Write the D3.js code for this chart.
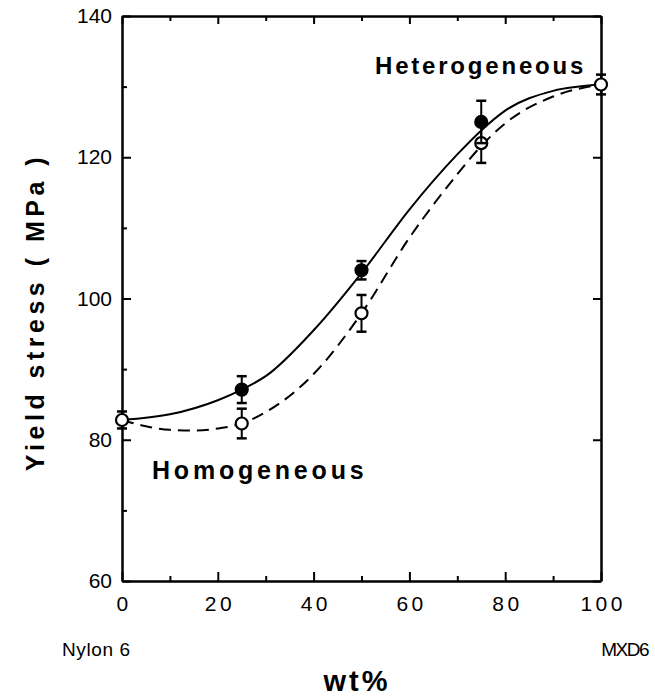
<!DOCTYPE html>
<html><head><meta charset="utf-8">
<script src="https://cdn.jsdelivr.net/npm/d3@7"></script>
<style>body{margin:0;background:#fff}svg{display:block}</style>
</head><body>
<svg id="c" width="655" height="698"></svg>
<script>
// ---- data ----
const compositions = [0, 25, 50, 75, 100];           // wt% MXD6
const heteroX = [25, 50, 75];
const heteroY = [87.1, 104.0, 125.0];
const heteroErr = [1.9, 1.3, 3.0];
const homoX = [0, 25, 50, 75, 100];
const homoY = [82.8, 82.3, 97.9, 122.0, 130.3];
const homoErr = [1.2, 2.1, 2.6, 2.8, 1.4];
// fitted curves
const solidCurveX = [0, 10, 20, 25, 30, 40, 50, 60, 70, 75, 80, 90, 100];
const solidCurveY = [82.8, 83.6, 85.6, 87.1, 89.0, 95.5, 103.6, 112.6, 120.4, 123.8, 126.6, 129.4, 130.3];
const dashCurveX = [0, 5, 10, 15, 20, 25, 30, 40, 50, 60, 70, 75, 80, 90, 100];
const dashCurveY = [82.8, 81.9, 81.4, 81.3, 81.6, 82.3, 83.9, 89.3, 97.9, 108.6, 117.6, 121.6, 124.8, 128.6, 130.3];
const xTicks = [0, 20, 40, 60, 80, 100];
const xMinor = [10, 30, 50, 70, 90];
const yTicks = [60, 80, 100, 120, 140];
const yMinor = [70, 90, 110, 130];

const svg = d3.select("#c");
const L = 122, R = 601, T = 16, B = 581;
const x = d3.scaleLinear().domain([0, 100]).range([L, R]);
const y = d3.scaleLinear().domain([60, 140]).range([B, T]);

const font = "'Liberation Sans', Arial, sans-serif";

// axes (ticks inward)
function styleAxis(g) {
  g.selectAll("path").attr("stroke", "#000").attr("stroke-width", 2.5);
  g.selectAll("line").attr("stroke", "#000").attr("stroke-width", 2);
  g.selectAll("text").attr("font-family", font).attr("font-size", 21).attr("fill", "#000");
}
svg.append("g").attr("transform", `translate(0,${B})`)
  .call(d3.axisBottom(x).tickValues(xTicks).tickSizeInner(-9).tickSizeOuter(0).tickPadding(15).tickFormat(d3.format("d")))
  .call(styleAxis)
  .call(g => g.selectAll("text").attr("letter-spacing", 3.5).attr("dx", 1.7));
svg.append("g").attr("transform", `translate(0,${B})`)
  .call(d3.axisBottom(x).tickValues(xMinor).tickSizeInner(-5).tickSizeOuter(0).tickFormat(""))
  .call(styleAxis).call(g => g.select("path").remove());
svg.append("g").attr("transform", `translate(0,${T})`)
  .call(d3.axisTop(x).tickValues(xTicks).tickSizeInner(-8).tickSizeOuter(0).tickFormat(""))
  .call(styleAxis);
svg.append("g").attr("transform", `translate(0,${T})`)
  .call(d3.axisTop(x).tickValues(xMinor).tickSizeInner(-5).tickSizeOuter(0).tickFormat(""))
  .call(styleAxis).call(g => g.select("path").remove());
svg.append("g").attr("transform", `translate(${L},0)`)
  .call(d3.axisLeft(y).tickValues(yTicks).tickSizeInner(-9).tickSizeOuter(0).tickPadding(10).tickFormat(d3.format("d")))
  .call(styleAxis);
svg.append("g").attr("transform", `translate(${L},0)`)
  .call(d3.axisLeft(y).tickValues(yMinor).tickSizeInner(-5).tickSizeOuter(0).tickFormat(""))
  .call(styleAxis).call(g => g.select("path").remove());
svg.append("g").attr("transform", `translate(${R},0)`)
  .call(d3.axisRight(y).tickValues(yTicks).tickSizeInner(-8).tickSizeOuter(0).tickFormat(""))
  .call(styleAxis);

// curves
const line = d3.line().x(d => x(d[0])).y(d => y(d[1])).curve(d3.curveMonotoneX);
svg.append("path").datum(d3.zip(solidCurveX, solidCurveY)).attr("d", line)
  .attr("fill", "none").attr("stroke", "#000").attr("stroke-width", 2);
svg.append("path").datum(d3.zip(dashCurveX, dashCurveY)).attr("d", line)
  .attr("fill", "none").attr("stroke", "#000").attr("stroke-width", 2).attr("stroke-dasharray", "12,7");

// error bars + markers
function drawSeries(xs, ys, es, filled) {
  const data = xs.map((v, i) => ({ x: v, y: ys[i], e: es[i] }));
  const g = svg.append("g");
  const eb = g.selectAll("g.eb").data(data).join("g");
  eb.append("line").attr("x1", d => x(d.x)).attr("x2", d => x(d.x))
    .attr("y1", d => y(d.y + d.e)).attr("y2", d => y(d.y - d.e)).attr("stroke", "#000").attr("stroke-width", 2);
  eb.append("line").attr("x1", d => x(d.x) - 5).attr("x2", d => x(d.x) + 5)
    .attr("y1", d => y(d.y + d.e)).attr("y2", d => y(d.y + d.e)).attr("stroke", "#000").attr("stroke-width", 2.5);
  eb.append("line").attr("x1", d => x(d.x) - 5).attr("x2", d => x(d.x) + 5)
    .attr("y1", d => y(d.y - d.e)).attr("y2", d => y(d.y - d.e)).attr("stroke", "#000").attr("stroke-width", 2.5);
  g.selectAll("circle").data(data).join("circle")
    .attr("cx", d => x(d.x)).attr("cy", d => y(d.y)).attr("r", 6)
    .attr("fill", filled ? "#000" : "#fff").attr("stroke", "#000").attr("stroke-width", 2.2);
}
drawSeries(homoX, homoY, homoErr, false);
drawSeries(heteroX, heteroY, heteroErr, true);

// labels
svg.append("text").attr("x", 375).attr("y", 74).text("Heterogeneous")
  .attr("font-family", font).attr("font-weight", "bold").attr("font-size", 24).attr("letter-spacing", 2.8);
svg.append("text").attr("x", 152).attr("y", 479).text("Homogeneous")
  .attr("font-family", font).attr("font-weight", "bold").attr("font-size", 25).attr("letter-spacing", 3.8);
svg.append("text").attr("x", 62).attr("y", 656).text("Nylon 6")
  .attr("font-family", font).attr("font-size", 19).attr("letter-spacing", 0.6);
svg.append("text").attr("x", 648).attr("y", 656).attr("text-anchor", "end").text("MXD6")
  .attr("font-family", font).attr("font-size", 19).attr("letter-spacing", -1.5);
svg.append("text").attr("x", 357).attr("y", 691).attr("text-anchor", "middle").text("wt%")
  .attr("font-family", font).attr("font-weight", "bold").attr("font-size", 29).attr("letter-spacing", 3);
svg.append("text").attr("transform", `translate(44,312) rotate(-90)`)
  .attr("text-anchor", "middle").text("Yield stress ( MPa )")
  .attr("font-family", font).attr("font-weight", "bold").attr("font-size", 25).attr("letter-spacing", 4.5)
  .style("white-space", "pre");
</script>
</body></html>
